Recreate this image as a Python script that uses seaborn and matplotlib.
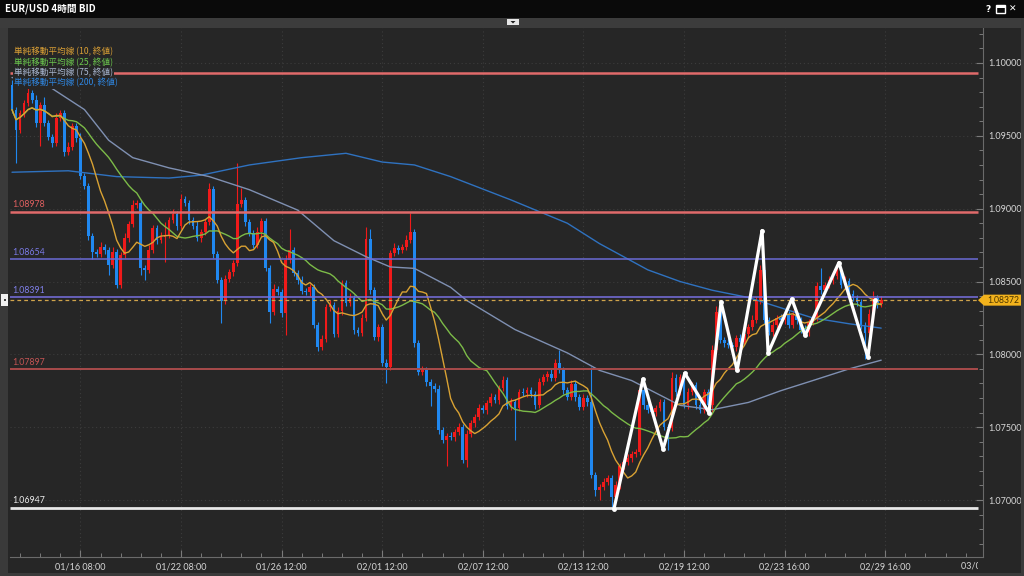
import numpy as np
import pandas as pd
import matplotlib
matplotlib.use("Agg")
import matplotlib.pyplot as plt
import seaborn as sns
from matplotlib.patches import Rectangle, Polygon
from matplotlib.transforms import Bbox, IdentityTransform
from matplotlib.ticker import MultipleLocator, FormatStrFormatter

# ---------------- data ----------------
title = "EUR/USD 4時間 BID"
first_bar_time = "2024-01-11 16:00"
first_open = 1.09851

close = [
    1.09679, 1.09542, 1.09659, 1.09727, 1.09796, 1.09748, 1.09590, 1.09714, 1.09590, 1.09494,
    1.09453, 1.09624, 1.09659, 1.09391, 1.09425, 1.09569, 1.09487, 1.09226, 1.09157, 1.08814,
    1.08704, 1.08690, 1.08738, 1.08718, 1.08614, 1.08704, 1.08477, 1.08683, 1.08800, 1.08896,
    1.09027, 1.09040, 1.08594, 1.08580, 1.08718, 1.08869, 1.08786, 1.08807, 1.08821, 1.08924,
    1.08965, 1.08882, 1.09068, 1.09040, 1.08924, 1.08882, 1.08800, 1.08841, 1.08910, 1.09137,
    1.08690, 1.08511, 1.08367, 1.08518, 1.08566, 1.08628, 1.09034, 1.09061, 1.08910, 1.08834,
    1.08752, 1.08841, 1.08917, 1.08594, 1.08292, 1.08450, 1.08429, 1.08285, 1.08649, 1.08718,
    1.08559, 1.08511, 1.08436, 1.08429, 1.08463, 1.08202, 1.08051, 1.08106, 1.08326, 1.08340,
    1.08140, 1.08298, 1.08491, 1.08353, 1.08388, 1.08168, 1.08147, 1.08250, 1.08793, 1.08443,
    1.08120, 1.08189, 1.07941, 1.07914, 1.08697, 1.08731, 1.08718, 1.08738, 1.08786, 1.08841,
    1.08079, 1.07879, 1.07893, 1.07811, 1.07783, 1.07763, 1.07481, 1.07412, 1.07440, 1.07433,
    1.07467, 1.07502, 1.07275, 1.07453, 1.07529, 1.07570, 1.07632, 1.07618, 1.07666, 1.07708,
    1.07687, 1.07769, 1.07824, 1.07646, 1.07673, 1.07632, 1.07742, 1.07735, 1.07756, 1.07728,
    1.07653, 1.07811, 1.07845, 1.07866, 1.07838, 1.07941, 1.07893, 1.07756, 1.07708, 1.07797,
    1.07708, 1.07639, 1.07701, 1.07673, 1.07172, 1.07069, 1.07089, 1.07124, 1.07151, 1.07021,
    1.07103, 1.07234, 1.07261, 1.07289, 1.07316, 1.07330, 1.07756, 1.07653, 1.07618, 1.07605,
    1.07632, 1.07673, 1.07502, 1.07495, 1.07838, 1.07742, 1.07845, 1.07653, 1.07742, 1.07790,
    1.07653, 1.07618, 1.07742, 1.07653, 1.08031, 1.08292, 1.08099, 1.08079, 1.08065, 1.08051,
    1.08113, 1.08085, 1.08140, 1.08189, 1.08237, 1.08367, 1.08580, 1.08237, 1.08154, 1.08202,
    1.08250, 1.08237, 1.08278, 1.08202, 1.08271, 1.08237, 1.08168, 1.08154, 1.08223, 1.08250,
    1.08470, 1.08443, 1.08477, 1.08511, 1.08539, 1.08580, 1.08477, 1.08505, 1.08415, 1.08388,
    1.08360, 1.08202, 1.08147, 1.08278, 1.08388, 1.08347, 1.08372,
]

# wick lengths beyond the candle body, in pips
wick_up_pips = [
    3, 2, 2, 2, 3, 2, 3, 2, 5, 2,
    2, 3, 2, 2, 3, 2, 2, 3, 2, 2,
    2, 2, 3, 2, 2, 3, 2, 2, 3, 2,
    3, 2, 2, 2, 3, 2, 2, 3, 9, 2,
    3, 2, 3, 2, 2, 2, 3, 2, 2, 4,
    2, 2, 2, 3, 2, 2, 28, 8, 2, 2,
    2, 3, 2, 2, 2, 3, 2, 2, 3, 14,
    2, 2, 3, 2, 2, 2, 2, 3, 2, 3,
    2, 3, 2, 2, 3, 2, 2, 3, 8, 7,
    2, 2, 2, 3, 2, 3, 2, 2, 3, 13,
    2, 2, 3, 2, 2, 2, 3, 2, 2, 3,
    2, 3, 2, 3, 2, 2, 3, 2, 2, 3,
    2, 2, 3, 2, 3, 2, 2, 3, 2, 2,
    2, 3, 2, 2, 3, 3, 9, 2, 2, 3,
    2, 2, 3, 2, 24, 2, 2, 3, 2, 2,
    3, 2, 2, 3, 2, 2, 4, 2, 2, 3,
    2, 2, 2, 2, 4, 3, 2, 2, 3, 2,
    2, 3, 2, 2, 3, 4, 2, 2, 3, 2,
    2, 3, 2, 2, 3, 3, 3, 2, 2, 3,
    2, 3, 2, 2, 3, 2, 2, 3, 2, 2,
    3, 12, 2, 3, 2, 2, 2, 3, 2, 3,
    2, 2, 2, 3, 5, 2, 3,
]
wick_dn_pips = [
    2, 23, 2, 3, 2, 2, 3, 16, 2, 2,
    3, 2, 2, 3, 2, 2, 3, 2, 2, 3,
    5, 2, 2, 3, 7, 2, 2, 2, 2, 3,
    2, 2, 5, 7, 2, 2, 3, 2, 17, 2,
    2, 3, 2, 2, 3, 2, 2, 3, 2, 2,
    3, 2, 15, 2, 2, 3, 2, 2, 3, 2,
    2, 2, 3, 2, 8, 2, 2, 3, 15, 2,
    2, 3, 2, 2, 3, 2, 3, 2, 2, 3,
    2, 2, 3, 2, 2, 3, 2, 2, 2, 3,
    2, 3, 2, 11, 2, 2, 3, 2, 2, 2,
    3, 2, 2, 3, 14, 2, 3, 2, 18, 2,
    3, 2, 2, 5, 2, 3, 2, 2, 3, 2,
    2, 3, 2, 2, 3, 22, 2, 2, 3, 2,
    3, 2, 2, 3, 2, 2, 2, 3, 2, 2,
    3, 2, 2, 3, 2, 4, 7, 2, 2, 7,
    2, 3, 2, 2, 3, 2, 2, 3, 2, 2,
    3, 2, 2, 15, 2, 3, 2, 2, 3, 2,
    3, 2, 2, 3, 5, 2, 2, 3, 2, 2,
    3, 2, 2, 3, 2, 2, 2, 3, 2, 3,
    2, 2, 3, 2, 2, 3, 2, 2, 3, 2,
    2, 3, 2, 2, 3, 2, 2, 3, 2, 2,
    3, 3, 18, 2, 2, 3, 2,
]

# long moving averages (bar index, value)
ma75_bar = [0, 8, 18, 24, 30, 39, 49, 59, 71, 80, 88, 94, 100, 109, 113, 125, 138, 146, 154, 166, 174, 183, 191, 199, 208, 216]
ma75_val = [1.0990, 1.0986, 1.0968, 1.0947, 1.0935, 1.0928, 1.0922, 1.0913, 1.0899, 1.0878, 1.0867, 1.0860, 1.0859,
            1.0846, 1.0837, 1.0817, 1.0801, 1.0789, 1.0782, 1.0765, 1.0762, 1.0767, 1.0775, 1.0782, 1.0790, 1.0796]
ma200_bar = [0, 14, 26, 39, 47, 59, 72, 83, 92, 100, 109, 124, 138, 146, 158, 166, 174, 183, 191, 199, 208, 216]
ma200_val = [1.0925, 1.0926, 1.0922, 1.0921, 1.0923, 1.0930, 1.0935, 1.0938, 1.0932, 1.0930, 1.0922,
             1.0906, 1.0890, 1.0876, 1.0858, 1.0850, 1.0844, 1.0839, 1.0832, 1.0825, 1.0821, 1.0818]

# hand-drawn zigzag
zigzag_bar = [149.6, 156.8, 161.8, 167.2, 173.2, 176.2, 180.2, 186.4, 187.9, 193.8, 197.1, 205.5, 212.7, 214.5]
zigzag_val = [1.0694, 1.0783, 1.0735, 1.0787, 1.0760, 1.0836, 1.0789, 1.0885, 1.0801, 1.0838, 1.0813, 1.0863, 1.0798, 1.0837]

level_values = [1.09931, 1.08978, 1.08654, 1.08391, 1.07897, 1.06947]
level_labels = ["", "1.08978", "1.08654", "1.08391", "1.07897", "1.06947"]  # top label hidden under the legend
last_price = 1.08372
last_label = "1.08372"

tick_labels = ["01/16 08:00", "01/22 08:00", "01/26 12:00", "02/01 12:00", "02/07 12:00",
               "02/13 12:00", "02/19 12:00", "02/23 16:00", "02/29 16:00", "03/06 16:00"]
legend_labels = ["単純移動平均線 (10, 終値)", "単純移動平均線 (25, 終値)",
                 "単純移動平均線 (75, 終値)", "単純移動平均線 (200, 終値)"]

# ---------------- style ----------------
BG = "#262626"
RED = "#f01a1a"
BLUE = "#2088f0"
MA_COLORS = ["#d9a233", "#7cbb48", "#7f90b2", "#2f72c0"]
LEG_COLORS = ["#dba035", "#6cc84e", "#a8b6d0", "#2f86e0"]
LEVEL_COLORS = ["#e06a6a", "#e06a6a", "#6b6bd6", "#7870e0", "#a84a4a", "#e8e8e8"]
LEVEL_LABEL_COLORS = ["#e06060", "#e06060", "#7a7ae6", "#8080ea", "#c45454", "#ededed"]
LEVEL_WIDTHS = [1.8, 1.8, 1.1, 1.1, 1.4, 2.0]

sns.set_theme(style="dark")
CJK = ["Noto Sans CJK JP", "DejaVu Sans"]
NUM = ["Lato", "DejaVu Sans"]
plt.rcParams["font.family"] = NUM

W, H = 1024, 576
fig = plt.figure(figsize=(W / 100, H / 100), dpi=100, facecolor=BG)


def frect(x, y, w, h, **kw):
    r = Rectangle((x / W, 1 - (y + h) / H), w / W, h / H, transform=fig.transFigure, **kw)
    fig.add_artist(r)
    return r


def fpt(x, y):
    return x / W, 1 - y / H


# window chrome
frect(0, 0, W, 18, facecolor="#0a0a0a", edgecolor="none")
frect(0, 18, W, 10, facecolor="#3c3c3c", edgecolor="none")
frect(507, 19, 12, 6, facecolor="#e6e6e6", edgecolor="none")
fig.add_artist(Polygon([fpt(510.5, 21), fpt(515.5, 21), fpt(513, 23.5)], closed=True,
                       transform=fig.transFigure, facecolor="#202020", edgecolor="none"))
frect(0, 28, 8, H - 28, facecolor="#3a3a3a", edgecolor="none")
frect(1, 294, 7, 12, facecolor="#f0f0f0", edgecolor="none")
frect(3.5, 299, 2, 2, facecolor="#404040", edgecolor="none")
frect(1021, 18, 3, H - 18, facecolor="#3a3a3a", edgecolor="none")
frect(0, 573, W, 3, facecolor="#3a3a3a", edgecolor="none")

fig.text(*fpt(5, 9), title, color="white", fontsize=7, fontweight="bold", va="center", ha="left", family=CJK)
fig.text(*fpt(988, 9.5), "?", color="white", fontsize=6.5, fontweight="bold", va="center", ha="center", family=["DejaVu Sans"])
frect(996, 5.5, 9, 7, facecolor="none", edgecolor="white", lw=1.0)
frect(996, 5.5, 9, 2, facecolor="white", edgecolor="none")
fig.text(*fpt(1013, 9.5), "✕", color="white", fontsize=6.5, va="center", ha="center", family=["DejaVu Sans"])

# ---------------- main axes ----------------
ax = fig.add_axes([10 / W, 1 - 557 / H, 973 / W, 529 / H])
ax.set_facecolor(BG)

n = len(close)
idx = np.arange(n)
c = np.array(close)
o = np.concatenate([[first_open], c[:-1]])
up = c >= o
col = np.where(up, RED, BLUE)
hi = np.maximum(o, c) + np.array(wick_up_pips) * 1e-4
lo = np.minimum(o, c) - np.array(wick_dn_pips) * 1e-4
ax.vlines(idx, lo, hi, colors=col, lw=0.8, zorder=2)
ax.bar(idx, np.maximum(np.abs(c - o), 0.00003), bottom=np.minimum(o, c), width=0.68,
       color=col, linewidth=0, zorder=2.1)

s = pd.Series(c)
ma_df = pd.DataFrame({"bar": idx,
                      "ma10": s.rolling(10, min_periods=1).mean(),
                      "ma25": s.rolling(25, min_periods=1).mean()})
sns.lineplot(x=ma200_bar, y=ma200_val, ax=ax, color=MA_COLORS[3], lw=1.0, zorder=3, legend=False)
sns.lineplot(x=ma75_bar, y=ma75_val, ax=ax, color=MA_COLORS[2], lw=1.0, zorder=3, legend=False)
sns.lineplot(data=ma_df, x="bar", y="ma25", ax=ax, color=MA_COLORS[1], lw=1.0, zorder=3.1, legend=False)
sns.lineplot(data=ma_df, x="bar", y="ma10", ax=ax, color=MA_COLORS[0], lw=1.0, zorder=3.2, legend=False)

# horizontal levels
xmax_line = 240.0
ax.hlines(level_values, -0.5, xmax_line, colors=LEVEL_COLORS, linewidths=LEVEL_WIDTHS, zorder=4)
for v, lbl, lc in zip(level_values, level_labels, LEVEL_LABEL_COLORS):
    if lbl:
        ax.annotate(lbl, xy=(-0.5, v), xytext=(1.5, 1.8), textcoords="offset points",
                    color=lc, fontsize=6.3, ha="left", va="bottom", zorder=4)
ax.axhline(last_price, color="#d0a44c", lw=0.9, ls=(0, (3, 2.5)), zorder=4)

# zigzag
sns.lineplot(x=zigzag_bar, y=zigzag_val, ax=ax, color="white", lw=2.3, sort=False,
             marker="o", markersize=3.5, markeredgewidth=0, zorder=6, legend=False)

# limits / axes
ax.set_xlim(-0.5, 241.3)
ax.set_ylim(1.06609, 1.10240)
ax.set_xlabel("")
ax.set_ylabel("")


def bar_times(start, count):
    t = pd.Timestamp(start)
    out = []
    while len(out) < count:
        wd, h = t.weekday(), t.hour
        closed = wd == 6 or (wd == 5 and h >= 8) or (wd == 0 and h < 4)
        if not closed:
            out.append(t)
        t += pd.Timedelta(hours=4)
    return out


stamps = [t.strftime("%m/%d %H:%M") for t in bar_times(first_bar_time, n + 40)]
tick_pos = [stamps.index(lbl) for lbl in tick_labels]
xr = ax.get_xlim()[1]
in_pos = [p for p in tick_pos if p <= xr]
in_lbl = [l for p, l in zip(tick_pos, tick_labels) if p <= xr]
ax.set_xticks(in_pos)
ax.set_xticklabels(in_lbl)
ax.xaxis.set_minor_locator(MultipleLocator(5, offset=tick_pos[0] % 5))

ax.yaxis.tick_right()
ax.yaxis.set_major_locator(MultipleLocator(0.005))
ax.yaxis.set_minor_locator(MultipleLocator(0.001))
ax.yaxis.set_major_formatter(FormatStrFormatter("%.5f"))

ax.tick_params(axis="y", which="major", direction="in", length=5, width=0.8, color="#7a7a7a",
               labelsize=6.5, labelcolor="#d6d6d6", pad=4, right=True, left=False,
               labelright=True, labelleft=False)
ax.tick_params(axis="y", which="minor", direction="in", length=3, width=0.7, color="#7a7a7a",
               right=True, left=False)
ax.tick_params(axis="x", which="major", direction="in", length=5, width=0.8, color="#7a7a7a",
               labelsize=6.5, labelcolor="#d6d6d6", pad=4, bottom=True)
ax.tick_params(axis="x", which="minor", direction="in", length=3, width=0.7, color="#7a7a7a", bottom=True)

for side in ["left", "top"]:
    ax.spines[side].set_visible(False)
for side in ["right", "bottom"]:
    ax.spines[side].set_visible(True)
    ax.spines[side].set_color("#6a6a6a")
    ax.spines[side].set_linewidth(0.8)

ax.grid(True, which="major", axis="both", color="#3c3c3c", ls=(0, (1, 2.5)), lw=0.8)
ax.set_axisbelow(True)

# ticks beyond the data range, clipped at the axis edge
for p, l in zip(tick_pos, tick_labels):
    if p > xr:
        xd = ax.transData.transform((p, 0))[0]
        t = fig.text(xd, H - 566, l, transform=IdentityTransform(), ha="center", va="center",
                     fontsize=6.5, color="#d6d6d6")
        t.set_clip_box(Bbox.from_extents(0, 0, 978, H))
        t.set_clip_on(True)

# legend (opaque boxes, covering the level lines underneath)
for k, (lbl, lc) in enumerate(zip(legend_labels, LEG_COLORS)):
    fig.text(*fpt(14, 52 + 10.3 * k), lbl, color=lc, fontsize=6.2, va="center", ha="left", family=CJK,
             bbox=dict(boxstyle="square,pad=0.12", facecolor=BG, edgecolor="none"), zorder=8)

# current price tag
ytag = ax.transData.transform((0, last_price))[1]
fig.add_artist(Polygon([[978, ytag], [984, ytag + 5.5], [1021, ytag + 5.5], [1021, ytag - 5.5], [984, ytag - 5.5]],
                       closed=True, transform=IdentityTransform(), facecolor="#f2b21c", edgecolor="none", zorder=10))
fig.text(1003, ytag, last_label, transform=IdentityTransform(), ha="center", va="center",
         fontsize=6.2, color="#4a3500", zorder=11)

fig.savefig("out.png", dpi=100, facecolor=BG)
